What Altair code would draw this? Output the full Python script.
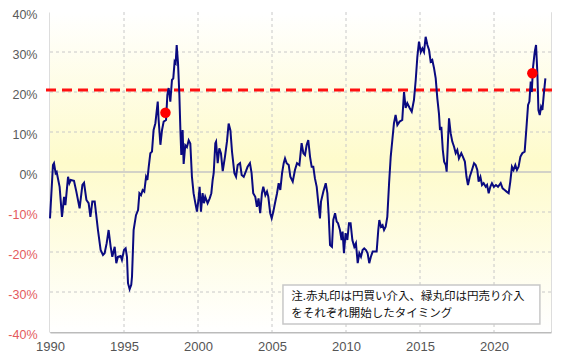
import altair as alt
import pandas as pd

dates = [
    1990.0, 1990.2, 1990.27, 1990.38, 1990.45, 1990.65, 1990.81, 1990.95, 1991.04, 1991.22,
    1991.31, 1991.4, 1991.62, 1991.78, 1992.0, 1992.19, 1992.3, 1992.46, 1992.61, 1992.73,
    1992.86, 1993.02, 1993.24, 1993.42, 1993.58, 1993.69, 1993.83, 1993.96, 1994.1, 1994.21,
    1994.37, 1994.48, 1994.59, 1994.77, 1994.86, 1995.0, 1995.11, 1995.2, 1995.27, 1995.38,
    1995.49, 1995.54, 1995.65, 1995.81, 1995.95, 1996.04, 1996.15, 1996.26, 1996.37, 1996.49,
    1996.58, 1996.67, 1996.78, 1996.89, 1997.0, 1997.12, 1997.28, 1997.34, 1997.46, 1997.57,
    1997.68, 1997.84, 1997.93, 1998.02, 1998.13, 1998.24, 1998.33, 1998.42, 1998.49, 1998.56,
    1998.65, 1998.74, 1998.81, 1998.87, 1998.96, 1999.03, 1999.14, 1999.25, 1999.37, 1999.48,
    1999.59, 1999.7, 1999.82, 1999.93, 2000.04, 2000.11, 2000.2, 2000.31, 2000.4, 2000.49,
    2000.65, 2000.79, 2000.9, 2000.99, 2001.06, 2001.17, 2001.22, 2001.33, 2001.44, 2001.55,
    2001.67, 2001.82, 2001.96, 2002.07, 2002.19, 2002.3, 2002.46, 2002.57, 2002.68, 2002.84,
    2002.95, 2003.09, 2003.24, 2003.35, 2003.51, 2003.62, 2003.73, 2003.87, 2003.98, 2004.09,
    2004.2, 2004.32, 2004.41, 2004.55, 2004.66, 2004.75, 2004.88, 2004.98, 2005.09, 2005.2,
    2005.34, 2005.45, 2005.56, 2005.68, 2005.79, 2005.88, 2005.99, 2006.13, 2006.24, 2006.4,
    2006.55, 2006.69, 2006.85, 2007.0, 2007.12, 2007.23, 2007.34, 2007.45, 2007.57, 2007.68,
    2007.79, 2007.9, 2008.02, 2008.13, 2008.24, 2008.31, 2008.47, 2008.63, 2008.74, 2008.83,
    2008.92, 2009.05, 2009.14, 2009.26, 2009.37, 2009.46, 2009.59, 2009.7, 2009.77, 2009.86,
    2009.97, 2010.09, 2010.2, 2010.31, 2010.43, 2010.56, 2010.67, 2010.79, 2010.9, 2011.01,
    2011.12, 2011.23, 2011.35, 2011.46, 2011.57, 2011.68, 2011.8, 2011.95, 2012.07, 2012.18,
    2012.25, 2012.36, 2012.47, 2012.57, 2012.68, 2012.79, 2012.91, 2013.02, 2013.13, 2013.24,
    2013.35, 2013.47, 2013.62, 2013.8, 2013.92, 2014.03, 2014.14, 2014.3, 2014.44, 2014.59,
    2014.71, 2014.82, 2014.93, 2015.05, 2015.16, 2015.27, 2015.38, 2015.5, 2015.61, 2015.72,
    2015.83, 2015.95, 2016.06, 2016.17, 2016.28, 2016.35, 2016.44, 2016.54, 2016.63, 2016.74,
    2016.8, 2016.89, 2016.96, 2017.07, 2017.18, 2017.3, 2017.41, 2017.52, 2017.63, 2017.79,
    2017.9, 2018.03, 2018.14, 2018.24, 2018.36, 2018.51, 2018.65, 2018.76, 2018.87, 2018.96,
    2019.08, 2019.19, 2019.3, 2019.44, 2019.53, 2019.64, 2019.75, 2019.86, 2019.99, 2020.13,
    2020.27, 2020.45, 2020.58, 2020.72, 2020.85, 2020.99, 2021.1, 2021.21, 2021.32, 2021.44,
    2021.55, 2021.66, 2021.78, 2021.91, 2022.07, 2022.18, 2022.3, 2022.39, 2022.48, 2022.55,
    2022.64, 2022.75, 2022.84, 2022.93, 2023.0, 2023.09, 2023.18, 2023.27, 2023.36, 2023.47,
]
values = [
    -11.6, 1.75, 2.2, -0.3, 0.0, -3.7, -11.2, -6.2, -8.3, -1.2,
    -2.8, -2.0, -2.2, -4.9, -9.1, -3.25, -2.7, -7.0, -7.8, -11.2,
    -7.4, -7.4, -14.5, -19.5, -20.75, -20.3, -17.8, -14.5, -18.7, -21.2,
    -18.7, -22.8, -21.2, -21.0, -22.0, -19.5, -19.1, -21.2, -27.8, -29.3,
    -28.2, -26.2, -14.5, -10.8, -9.5, -5.3, -5.8, -4.5, -4.9, -1.2,
    -2.0, 1.3, 4.7, 5.1, 10.5, 12.2, 17.6, 13.0, 6.8, 10.5,
    12.6, 13.0, 19.3, 21.0, 17.6, 23.0, 23.4, 27.6, 27.2, 31.75,
    27.2, 19.3, 10.5, 4.25, 10.5, 2.0, 6.7, 6.2, 7.9, 7.1,
    -1.2, -5.3, -7.8, -9.9, -6.6, -3.7, -9.9, -5.3, -7.8, -6.2,
    -7.8, -6.6, -5.3, -2.0, -0.3, 7.2, 7.6, 2.2, 5.9, 4.7,
    0.2, 3.8, 7.7, 12.1, 10.4, 5.0, -0.3, -1.2, 1.75, 2.2,
    -0.75, -1.2, 0.2, 1.3, 2.2, -0.3, -5.3, -6.2, -8.7, -6.6,
    -10.3, -5.3, -3.7, -5.8, -4.9, -6.2, -10.3, -11.6, -9.9, -7.8,
    -5.3, -2.8, -4.5, -0.3, 2.2, 3.4, 2.2, 1.75, -1.2, -2.4,
    0.5, 2.2, 1.75, 7.2, 4.7, 4.25, 6.75, 8.0, 3.8, 1.3,
    1.3, -1.6, -3.7, -7.8, -11.6, -7.4, -4.9, -2.8, -5.3, -10.75,
    -18.25, -18.7, -12.0, -10.3, -12.4, -12.8, -14.5, -17.0, -14.9, -20.3,
    -15.3, -17.0, -12.8, -12.8, -17.0, -18.7, -17.8, -22.8, -20.3, -21.2,
    -19.5, -19.1, -19.5, -20.3, -22.8, -21.2, -19.9, -19.9, -19.9, -14.5,
    -12.0, -13.7, -13.3, -14.5, -13.7, -11.2, -2.8, 3.8, 8.0, 12.2,
    14.25, 11.75, 12.6, 13.0, 20.0, 16.0, 17.2, 16.0, 15.1, 18.0,
    23.0, 28.8, 32.6, 30.0, 30.9, 30.0, 33.8, 31.75, 30.5, 27.6,
    28.0, 25.9, 23.4, 18.4, 14.6, 10.5, 11.3, 5.5, 2.6, 1.75,
    0.1, 7.9, 13.4, 9.7, 7.6, 6.3, 4.7, 5.5, 3.4, 4.7,
    3.8, 2.6, -1.2, -3.25, -1.2, 0.5, 2.2, 1.75, 0.5, -2.4,
    -1.2, -3.25, -2.8, -3.7, -3.25, -5.3, -3.7, -2.8, -3.7, -3.25,
    -3.7, -2.8, -4.1, -4.5, -4.9, -5.3, -2.4, 1.3, 0.5, 1.75,
    0.5, 1.3, 3.8, 4.7, 5.1, 10.5, 16.75, 17.6, 22.6, 20.0,
    26.3, 30.0, 31.75, 24.6, 15.5, 14.25, 16.3, 15.5, 19.3, 23.4,
]
marker_dates = [1997.8, 2022.59]
marker_values = [14.8, 24.7]
threshold = [20.5]
x_ticks = [1990, 1995, 2000, 2005, 2010, 2015, 2020]
y_ticks = [-40, -30, -20, -10, 0, 10, 20, 30, 40]
note_lines = ["注.赤丸印は円買い介入、緑丸印は円売り介入", "をそれぞれ開始したタイミング"]
note_box = {"x": 2005.74, "x2": 2023.1, "y": -28.25, "y2": -38.0}
note_pos = {"x": 2006.3, "y": [-31.3, -35.5]}

W, H = 501, 320
xs = alt.Scale(domain=[1990, 2023.85], nice=False, zero=False)
ys = alt.Scale(domain=[-40, 40], nice=False)

x_axis = alt.Axis(
    values=x_ticks, format="d", grid=False, ticks=False, labelOverlap=False, labelFlush=False,
    domainColor="#BBBBBB", domainWidth=2, labelColor="#555555",
    labelFont="Liberation Sans", labelFontSize=13, labelPadding=8, title=None)
y_axis = alt.Axis(
    values=y_ticks, grid=False, ticks=False, labelExpr="datum.value + '%'",
    labelOverlap=False, labelFlush=False, labelOffset=2,
    labelColor={"expr": "datum.value < 0 ? '#E45A5C' : '#5A5A5A'"},
    domainColor="#BBBBBB", domainWidth=2,
    labelFont="Liberation Sans", labelFontSize=12.5, labelPadding=13, title=None)


def X(field):
    return alt.X(field, type="quantitative", scale=xs, axis=x_axis)


def Y(field):
    return alt.Y(field, type="quantitative", scale=ys, axis=y_axis)


df = pd.DataFrame({"t": dates, "v": values})
mk = pd.DataFrame({"t": marker_dates, "v": marker_values})
xt = pd.DataFrame({"t": x_ticks[1:]})
yt = pd.DataFrame({"v": [v for v in y_ticks if v not in (0, -40, 40)]})
zero = pd.DataFrame({"v": [0]})
th = pd.DataFrame({"v": threshold})
box = pd.DataFrame([note_box])
notes = pd.DataFrame({"x": [note_pos["x"]] * 2, "y": note_pos["y"], "txt": note_lines})

bg = alt.Chart(alt.Data(values=[{}])).mark_rect(
    fill=alt.LinearGradient(
        gradient="linear", x1=0, x2=0, y1=0, y2=1,
        stops=[
            alt.GradientStop(color="#FFFFFF", offset=0),
            alt.GradientStop(color="#FEFBCB", offset=0.47),
            alt.GradientStop(color="#FFFFFF", offset=1),
        ],
    ),
    strokeWidth=0,
).encode(x=alt.value(0), x2=alt.value(W), y=alt.value(0), y2=alt.value(H))

grid_style = dict(color="#C8C8C8", strokeWidth=1, strokeDash=[3, 3])
vgrid = alt.Chart(xt).mark_rule(**grid_style).encode(
    x=X("t"), y=alt.value(0), y2=alt.value(H))
hgrid = alt.Chart(yt).mark_rule(**grid_style).encode(
    y=Y("v"), x=alt.value(0), x2=alt.value(W))
zrule = alt.Chart(zero).mark_rule(color="#C4C4C4", strokeWidth=1.5).encode(
    y=Y("v"), x=alt.value(0), x2=alt.value(W))

thr = alt.Chart(th).mark_rule(color="#FF1010", strokeWidth=3, strokeDash=[10, 6], clip=False).encode(
    y=Y("v"), x=alt.value(-4), x2=alt.value(W + 6))

line = alt.Chart(df).mark_line(color="#0A0A80", strokeWidth=2).encode(x=X("t"), y=Y("v"))

pts = alt.Chart(mk).mark_circle(color="#FF0000", opacity=1, size=110).encode(x=X("t"), y=Y("v"))

note_rect = alt.Chart(box).mark_rect(fill="#FFFFFF", stroke="#C8C8C8", strokeWidth=1.5).encode(
    x=X("x"), x2="x2:Q", y=Y("y"), y2="y2:Q")
note_text = alt.Chart(notes).mark_text(
    align="left", baseline="middle", font="Noto Sans CJK JP", fontSize=11.5, color="#111111"
).encode(x=X("x"), y=Y("y"), text="txt:N")

chart = alt.layer(bg, vgrid, hgrid, zrule, thr, line, pts, note_rect, note_text).properties(
    width=W, height=H,
    autosize=alt.AutoSizeParams(type="none"),
    padding={"left": 42, "top": 4, "right": 8, "bottom": 30},
).configure_view(stroke="#CFCFCF", strokeWidth=1.5).configure(background="#FFFFFF")

chart.save("out.html", embed_options={"renderer": "svg", "actions": False})
